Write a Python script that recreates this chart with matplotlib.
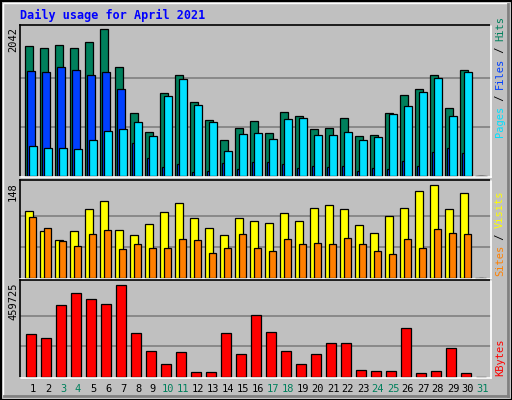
import matplotlib
matplotlib.use("Agg")
import matplotlib.pyplot as plt
from matplotlib.patches import Rectangle
import numpy as np

days = list(range(1, 32))
hits = [1801,1777,1819,1777,1861,2042,1513,872,608,1151,1402,1026,775,497,664,761,594,886,831,650,664,803,552,566,872,1123,1207,1402,942,1471,0]
files = [1457,1443,1513,1471,1402,1443,1207,455,246,125,162,51,65,176,93,190,190,162,107,135,121,135,65,107,93,204,135,329,385,316,0]
pages = [413,385,385,371,497,622,650,747,552,1109,1346,984,747,343,580,594,510,789,803,566,566,608,497,538,859,970,1165,1360,831,1443,0]
visits = [106,74,60,74,109,122,76,68,85,105,119,95,80,68,95,90,88,103,90,111,116,109,84,72,98,111,138,148,109,135,0]
sites = [97,80,58,51,69,76,45,53,48,48,61,60,40,48,69,48,42,61,53,56,53,64,53,43,37,61,47,77,72,69,0]
kbytes = [212000,192000,359000,419000,389000,364000,459725,217000,131000,61000,126000,25000,25000,217000,116000,308000,222000,131000,61000,116000,167000,167000,35000,30000,30000,242000,20000,30000,146000,20000,0]
weekend = [3,4,10,11,17,18,24,25,31]

W, H = 512, 400
fig = plt.figure(figsize=(5.12, 4.0), dpi=100, facecolor="#C0C0C0")
mono = "DejaVu Sans Mono"

def px_axes(x0, y0, x1, y1):
    ax = fig.add_axes([x0 / W, 1 - y1 / H, (x1 - x0) / W, (y1 - y0) / H])
    ax.set_facecolor("#C0C0C0")
    for s in ax.spines.values():
        s.set_visible(False)
    ax.set_xticks([]); ax.set_yticks([])
    ax.set_xlim(0, 471 / 15)
    return ax

def frame(x0, y0, x1, y1):
    # 3D effect: black top/left, white bottom/right
    fig.add_artist(plt.Line2D([x0 / W, x1 / W], [1 - y0 / H] * 2, color="black", lw=1.2, transform=fig.transFigure))
    fig.add_artist(plt.Line2D([x0 / W] * 2, [1 - y0 / H, 1 - y1 / H], color="black", lw=1.2, transform=fig.transFigure))
    fig.add_artist(plt.Line2D([x0 / W, x1 / W], [1 - y1 / H] * 2, color="white", lw=1.2, transform=fig.transFigure))
    fig.add_artist(plt.Line2D([x1 / W] * 2, [1 - y0 / H, 1 - y1 / H], color="white", lw=1.2, transform=fig.transFigure))

x = np.arange(31)
ec = dict(edgecolor="black", linewidth=0.9, align="edge")

# top panel
ax1 = px_axes(20, 25, 491, 177)
m1 = max(hits)
ax1.set_ylim(-m1 * 0.01, m1 * 151 / 147)
for g in (m1 / 3, 2 * m1 / 3):
    ax1.axhline(g, color="#808080", lw=1.2, zorder=0)
ax1.bar(x + 5 / 15, hits, 8 / 15, color="#00805C", **ec)
ax1.bar(x + 7 / 15, files, 8 / 15, color="#0040FF", **ec)
ax1.bar(x + 9 / 15, pages, 8 / 15, color="#00E0FF", **ec)
frame(20, 25, 491, 177)

# middle panel
ax2 = px_axes(20, 180, 491, 279)
m2 = max(visits)
ax2.set_ylim(-m2 * 0.015, m2 * 97 / 92)
for g in (m2 / 3, 2 * m2 / 3):
    ax2.axhline(g, color="#808080", lw=1.2, zorder=0)
ax2.bar(x + 5 / 15, visits, 8 / 15, color="#FFFF00", **ec)
ax2.bar(x + 9 / 15, sites, 7 / 15, color="#FF8000", **ec)
frame(20, 180, 491, 279)

# bottom panel
ax3 = px_axes(20, 280, 491, 378)
m3 = max(kbytes)
ax3.set_ylim(-m3 * 0.015, m3 * 96 / 91)
for g in (m3 / 3, 2 * m3 / 3):
    ax3.axhline(g, color="#808080", lw=1.2, zorder=0)
ax3.bar(x + 6 / 15, kbytes, 10 / 15, color="#FF0000", **ec)
frame(20, 280, 491, 378)

# day labels
for d in days:
    xp = 20 + 15 * (d - 1) + 13
    fig.text(xp / W, 1 - 389 / H, str(d), ha="center", va="center", family=mono, fontsize=7.5,
             color="#00805C" if d in weekend else "black")

# left max labels
for val, ytop in ((max(hits), 27), (max(visits), 182), (max(kbytes), 282)):
    fig.text(13 / W, 1 - ytop / H, str(val), rotation=90, ha="center", va="top", family=mono, fontsize=7.5)

# right legends (bottom-to-top)
def right_label(parts, ybottom):
    y = ybottom
    for txt, col in parts:
        t = fig.text(500 / W, 1 - y / H, txt, rotation=90, ha="center", va="bottom", family=mono,
                     fontsize=7.5, color=col)
        y -= len(txt) * 6.0

right_label([("Pages", "#00E0FF"), (" / ", "black"), ("Files", "#0040FF"), (" / ", "black"), ("Hits", "#00805C")], 137)
right_label([("Sites", "#FF8000"), (" / ", "black"), ("Visits", "#FFFF00")], 276)
right_label([("KBytes", "#FF0000")], 376)

fig.text(20 / W, 1 - 15 / H, "Daily usage for April 2021", ha="left", va="center", family=mono,
         fontsize=8.5, fontweight="bold", color="#0000FF")

# outer border
fig.add_artist(Rectangle((0.5 / W, 0.5 / H), 1 - 1 / W, 1 - 1 / H, transform=fig.transFigure,
                         fill=False, edgecolor="black", lw=1.5))
fig.add_artist(Rectangle((3 / W, 3 / H), 1 - 6 / W, 1 - 6 / H, transform=fig.transFigure,
                         fill=False, edgecolor="white", lw=1.0))
fig.add_artist(plt.Line2D([508 / W, 508 / W], [4 / H, 1 - 4 / H], color="#808080", lw=2, transform=fig.transFigure))
fig.add_artist(plt.Line2D([4 / W, 508 / W], [4 / H, 4 / H], color="#808080", lw=2, transform=fig.transFigure))

fig.savefig("out.png", dpi=100, facecolor=fig.get_facecolor())
